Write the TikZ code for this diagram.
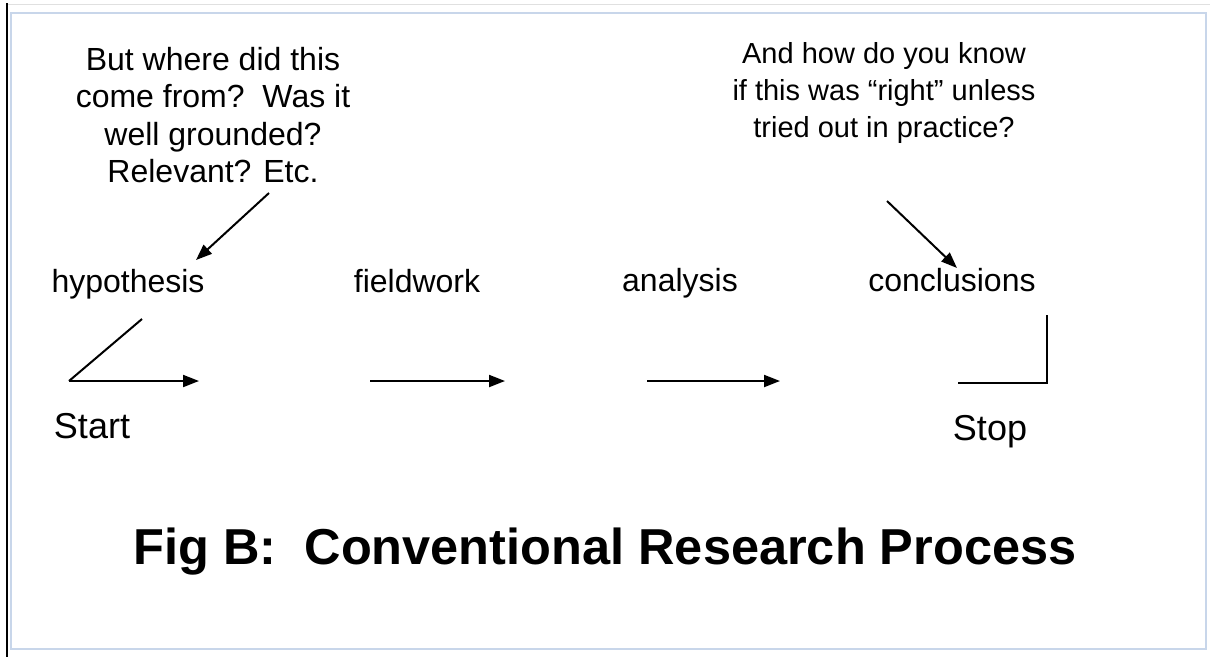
\documentclass[tikz,border=0pt]{standalone}
\usepackage{fontspec}
\setmainfont{Liberation Sans}
\usetikzlibrary{arrows.meta}
\definecolor{frameblue}{RGB}{200,214,234}
\begin{document}
\begin{tikzpicture}[x=1pt,y=-1pt,
  lbl/.style={inner sep=0pt, anchor=base, font=\fontsize{32}{37.5}\selectfont},
  big/.style={inner sep=0pt, anchor=base, font=\fontsize{36}{40}\selectfont},
  qtext/.style={inner sep=0pt, align=center, anchor=base},
  ln/.style={line width=2pt, black},
  arr/.style={ln, -{Triangle[length=16pt,width=12pt]}},
]
\useasboundingbox (0,0) rectangle (1210,657);
\draw[black!12, line width=1pt] (7,4) -- (1210,4);
\draw[line width=2.5pt] (7,3) -- (7,657);
\draw[frameblue, line width=2pt] (11,13) rectangle (1206,649);

\node[qtext, font=\fontsize{32}{37.5}\selectfont] (q1) at (213,182.5)
  {But where did this\\come from?\ \ Was it\\well grounded?\\Relevant? Etc.};
\node[qtext, font=\fontsize{29}{37}\selectfont] (q2) at (884,137)
  {And how do you know\\if this was “right” unless\\tried out in practice?};

\node[lbl] (hyp) at (128,292) {hypothesis};
\node[lbl] (field) at (417,292) {fieldwork};
\node[lbl] (anal) at (680,291) {analysis};
\node[lbl] (concl) at (952,291) {conclusions};
\node[big] (start) at (92,438) {Start};
\node[big] (stop) at (990,440) {Stop};
\node[inner sep=0pt, anchor=base, font=\fontsize{50.5}{56}\selectfont\bfseries] (title) at (605,564)
  {Fig B: \ Conventional Research Process};

\coordinate (s0) at (69,381);
\coordinate (s1) at (142,319);
\coordinate (s2) at (199,381);
\coordinate (f0) at (370,381);
\coordinate (f1) at (505,381);
\coordinate (a0) at (647,381);
\coordinate (a1) at (780,381);
\coordinate (e0) at (958,383);
\coordinate (e1) at (1047,383);
\coordinate (e2) at (1047,315);
\coordinate (qa0) at (269,193);
\coordinate (qa1) at (196,260);
\coordinate (qb0) at (887,201);
\coordinate (qb1) at (957,268);

\draw[ln] (s1) -- (s0);
\draw[arr] (s0) -- (s2);
\draw[arr] (f0) -- (f1);
\draw[arr] (a0) -- (a1);
\draw[ln, line join=miter] (e0) -- (e1) -- (e2);
\draw[arr] (qa0) -- (qa1);
\draw[arr] (qb0) -- (qb1);
\end{tikzpicture}
\end{document}
